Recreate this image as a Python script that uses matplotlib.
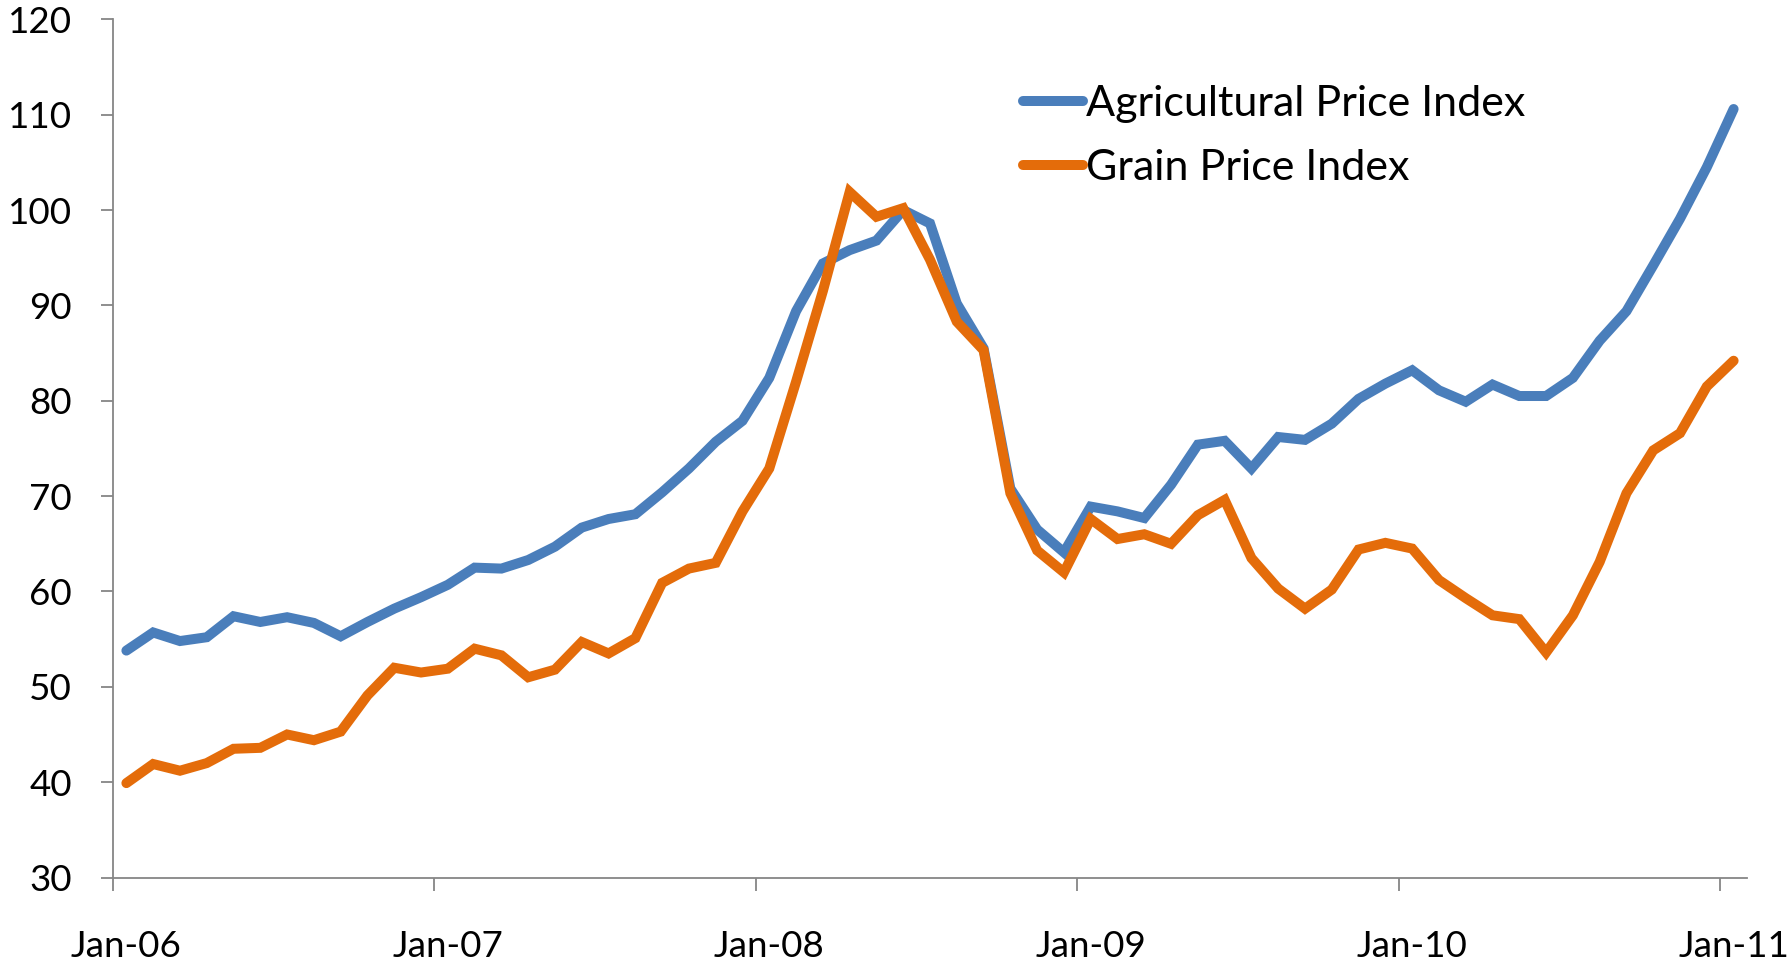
import matplotlib
matplotlib.use("Agg")
import matplotlib.pyplot as plt
import numpy as np

plt.rcParams['font.family'] = ['Lato', 'DejaVu Sans']

# Monthly data Jan-06 .. Jan-11 (61 months)
tick_labels = ["Jan-06", "Jan-07", "Jan-08", "Jan-09", "Jan-10", "Jan-11"]
agri_index = [53.8, 55.7, 54.8, 55.2, 57.4, 56.8, 57.3, 56.7, 55.3, 56.8, 58.2, 59.4,
              60.7, 62.5, 62.4, 63.3, 64.7, 66.7, 67.6, 68.1, 70.4, 72.9, 75.7, 77.9,
              82.4, 89.4, 94.4, 95.8, 96.8, 100.0, 98.6, 90.2, 85.5, 70.8, 66.5, 64.1,
              68.9, 68.4, 67.7, 71.2, 75.4, 75.8, 72.9, 76.2, 75.9, 77.6, 80.2, 81.8,
              83.2, 81.1, 79.9, 81.7, 80.5, 80.5, 82.4, 86.3, 89.4, 94.2, 99.1, 104.5,
              110.6]
grain_index = [39.9, 41.9, 41.2, 42.0, 43.5, 43.6, 45.0, 44.4, 45.3, 49.1, 52.0, 51.5,
               51.9, 54.0, 53.3, 51.0, 51.8, 54.7, 53.5, 55.1, 60.9, 62.4, 63.0, 68.4,
               72.9, 82.0, 91.5, 101.9, 99.3, 100.2, 94.8, 88.3, 85.3, 70.3, 64.3, 62.0,
               67.6, 65.5, 66.0, 65.0, 68.0, 69.6, 63.5, 60.3, 58.2, 60.2, 64.4, 65.1,
               64.5, 61.2, 59.3, 57.5, 57.1, 53.6, 57.5, 63.1, 70.3, 74.8, 76.6, 81.5,
               84.2]

months = np.arange(len(agri_index)) + 0.5  # points centered in month slots

fig = plt.figure(figsize=(17.89, 9.66), dpi=100)
ax = fig.add_axes([113/1789, 1 - 877.5/966, (1747 - 113)/1789, (877.5 - 19.4)/966])

blue = "#4A7EBB"
orange = "#E46C0A"
ax.plot(months, agri_index, color=blue, lw=7.2, solid_joinstyle='miter', solid_capstyle='round',
        label="Agricultural Price Index")
ax.plot(months, grain_index, color=orange, lw=7.2, solid_joinstyle='miter', solid_capstyle='round',
        label="Grain Price Index")

ax.set_xlim(0, 61)
ax.set_ylim(30, 120)
ax.set_yticks(np.arange(30, 121, 10))

# major ticks at year boundaries (no labels), labels centered on the January points
ax.set_xticks(np.arange(0, 61, 12))
ax.set_xticklabels([])
ax.set_xticks(np.arange(0, 61, 12) + 0.5, minor=True)
ax.set_xticklabels(tick_labels, minor=True)
ax.tick_params(axis='x', which='minor', length=0, pad=37.5, labelsize=26.5)
ax.tick_params(axis='x', which='major', length=9, width=1.3, color="#868686", direction='out')
ax.tick_params(axis='y', length=9, width=1.3, color="#868686", direction='out', pad=20.5,
               labelsize=26.5)

for s in ['top', 'right']:
    ax.spines[s].set_visible(False)
for s in ['left', 'bottom']:
    ax.spines[s].set_color("#868686")
    ax.spines[s].set_linewidth(1.3)

leg = ax.legend(loc='upper left', bbox_to_anchor=(1023/1789, 1 - 85/966),
                bbox_transform=fig.transFigure, frameon=False, fontsize=31,
                handlelength=1.4, handletextpad=0.07, labelspacing=0.6, borderpad=0,
                borderaxespad=0)
for h in leg.get_lines():
    h.set_solid_capstyle('round')

fig.savefig("out.png", dpi=100)
